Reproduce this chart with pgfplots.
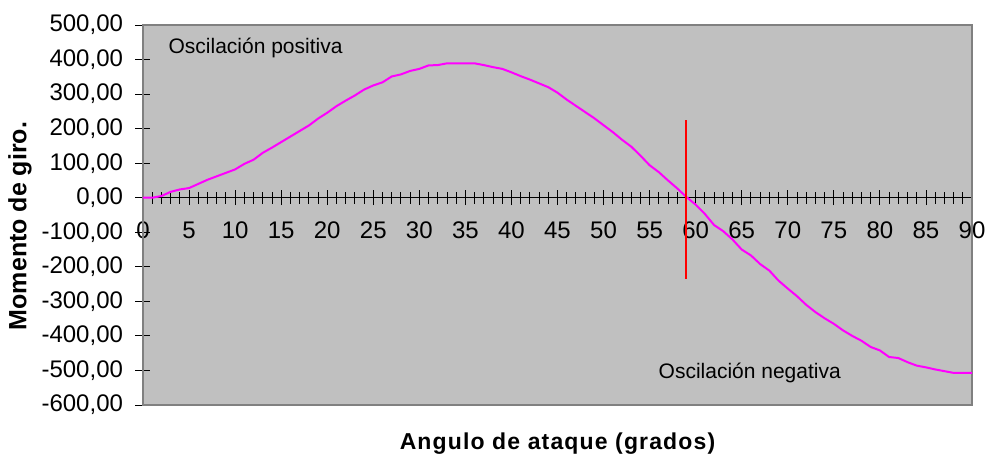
\documentclass[border=0pt]{standalone}
\usepackage{fontspec}
\setmainfont{Liberation Sans}
\newfontfamily\spaced[LetterSpace=5]{Liberation Sans}
\usepackage{pgfplots}
\pgfplotsset{compat=1.18}
\definecolor{plotbg}{HTML}{C0C0C0}
\definecolor{bordergray}{HTML}{808080}
\definecolor{yaxisgray}{HTML}{404040}
\definecolor{curve}{HTML}{FF00FF}
\begin{document}
\begin{tikzpicture}
\begin{axis}[
  scale only axis, width=829pt, height=380pt,
  xmin=0, xmax=90, ymin=-600, ymax=500,
  clip=false,
  axis background/.style={fill=plotbg},
  axis x line=middle, axis y line=left,
  x axis line style={-, black, line width=0.9pt},
  y axis line style={-, yaxisgray, line width=1.4pt},
  hide obscured x ticks=false, hide obscured y ticks=false,
  xtick={0,5,...,90}, minor xtick={0,1,...,90},
  ytick={-600,-500,...,500},
  tick align=center,
  major tick length=15pt, minor tick length=12pt,
  tick style={black, line width=0.9pt},
  /pgf/number format/assume math mode=true,
  tick label style={font=\fontsize{24}{26}\selectfont},
  xticklabel style={yshift=-13pt},
  yticklabel style={xshift=-9pt, /pgf/number format/.cd, fixed, fixed zerofill, precision=2, use comma, 1000 sep={}},
  xlabel={Angulo de ataque (grados)},
  ylabel={Momento de giro.},
  every axis x label/.style={at={(rel axis cs:0.5,0)}, anchor=center, yshift=-39pt, font=\spaced\bfseries\fontsize{23}{25}\selectfont},
  every axis y label/.style={at={(rel axis cs:0,0.471)}, anchor=center, xshift=-123pt, rotate=90, font=\bfseries\fontsize{25}{27}\selectfont},
]
\draw[bordergray, line width=1.4pt] (rel axis cs:0,0) rectangle (rel axis cs:1,1);
\addplot[curve, line width=2pt] table {
x y
0 0
1 0
2 5
3 17
4 24
5 28
6 40
7 52
8 62
9 72
10 82
11 98
12 110
13 130
14 145
15 161
16 177
17 193
18 209
19 229
20 246
21 265
22 281
23 296
24 313
25 325
26 334
27 351
28 357
29 367
30 373
31 383
32 384
33 389
34 389
35 389
36 389
37 384
38 378
39 373
40 363
41 352
42 342
43 331
44 320
45 304
46 284
47 266
48 248
49 230
50 210
51 190
52 168
53 148
54 122
55 94
56 74
57 50
58 27
59 2
60 -20
61 -47
62 -79
63 -97
64 -121
65 -150
66 -167
67 -192
68 -211
69 -240
70 -263
71 -285
72 -310
73 -331
74 -349
75 -365
76 -384
77 -400
78 -414
79 -432
80 -442
81 -461
82 -464
83 -476
84 -486
85 -491
86 -497
87 -502
88 -507
89 -507
90 -507
};
\addplot[red, line width=2pt] coordinates {(59,-234) (59,224)};
\node[anchor=west, font=\fontsize{21}{23}\selectfont] at (axis cs:2.4,433) {Oscilación positiva};
\node[anchor=west, font=\fontsize{21}{23}\selectfont] at (axis cs:55.6,-508) {Oscilación negativa};
\end{axis}
\pgfresetboundingbox
\path ([shift={(-143pt,-55pt)}]current axis.south west) rectangle ([shift={(21pt,25pt)}]current axis.north east);
\end{tikzpicture}
\end{document}
